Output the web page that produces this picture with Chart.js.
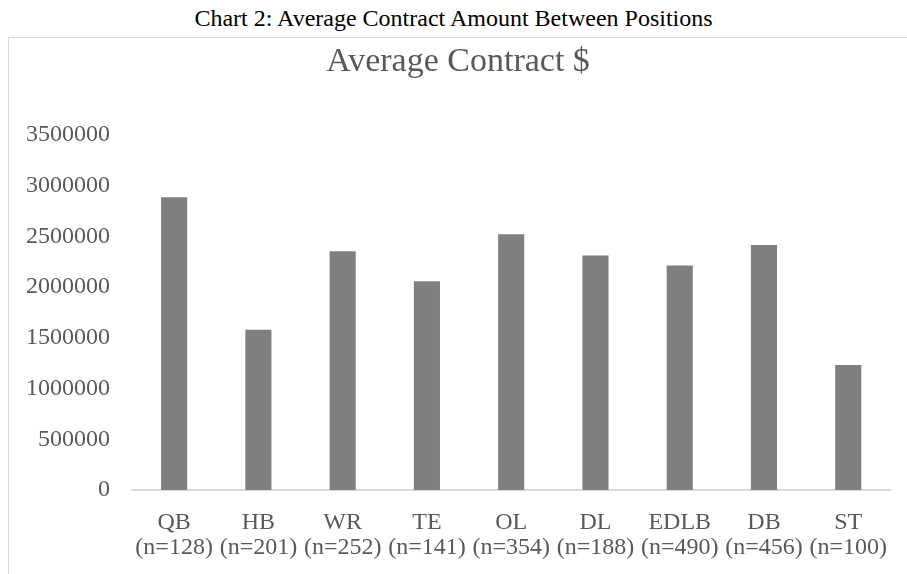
<!DOCTYPE html>
<html>
<head>
<meta charset="utf-8">
<script src="https://cdn.jsdelivr.net/npm/chart.js@4"></script>
<style>
  html, body { margin: 0; padding: 0; background: #fff; overflow: hidden; }
  #caption {
    height: 37px; line-height: 36px; text-align: center;
    font-family: "Liberation Serif", "Times New Roman", serif; font-size: 24px; color: #000;
  }
  #frame {
    position: absolute; left: 8px; top: 37px; width: 910px; height: 540px;
    border-left: 1px solid #d9d9d9; border-top: 1px solid #d9d9d9;
  }
  #wrap { position: absolute; left: 0; top: 0; width: 898px; height: 536px; }
</style>
</head>
<body>
<div id="caption">Chart 2: Average Contract Amount Between Positions</div>
<div id="frame"><div id="wrap"><canvas id="myChart"></canvas></div></div>
<script>
const positions = ['QB', 'HB', 'WR', 'TE', 'OL', 'DL', 'EDLB', 'DB', 'ST'];
const counts = ['(n=128)', '(n=201)', '(n=252)', '(n=141)', '(n=354)', '(n=188)', '(n=490)', '(n=456)', '(n=100)'];
const avgContract = [2885000, 1578000, 2353000, 2056000, 2520000, 2311000, 2213000, 2415000, 1232000];

const serif = '"Liberation Serif", "Times New Roman", serif';
const ctx = document.getElementById('myChart');

new Chart(ctx, {
    type: 'bar',
    data: {
        labels: positions.map((p, i) => [p, counts[i]]),
        datasets: [{
            label: 'Average Contract $',
            data: avgContract,
            backgroundColor: '#7f7f7f',
            borderWidth: 0,
            categoryPercentage: 1,
            barPercentage: 0.31
        }]
    },
    options: {
        responsive: true,
        maintainAspectRatio: false,
        animation: false,
        layout: { padding: 0 },
        plugins: {
            legend: { display: false },
            tooltip: { enabled: false },
            title: {
                display: true,
                text: 'Average Contract $',
                color: '#595959',
                font: { family: serif, size: 34, weight: 'normal' },
                padding: { top: 4, bottom: 52 }
            }
        },
        scales: {
            x: {
                grid: { display: false, drawTicks: false },
                border: { display: true, color: '#d9d9d9', width: 2 },
                afterFit: (scale) => { scale.height = 84; },
                ticks: {
                    color: '#595959',
                    font: { family: serif, size: 24, lineHeight: 1.05 },
                    padding: 20,
                    maxRotation: 0,
                    autoSkip: false
                }
            },
            y: {
                min: 0,
                max: 3500000,
                grid: { display: false, drawTicks: false },
                border: { display: false },
                afterFit: (scale) => { scale.width = 123; },
                ticks: {
                    stepSize: 500000,
                    color: '#595959',
                    font: { family: serif, size: 24 },
                    padding: 22,
                    callback: (v) => String(v)
                }
            }
        }
    }
});
</script>
</body>
</html>
